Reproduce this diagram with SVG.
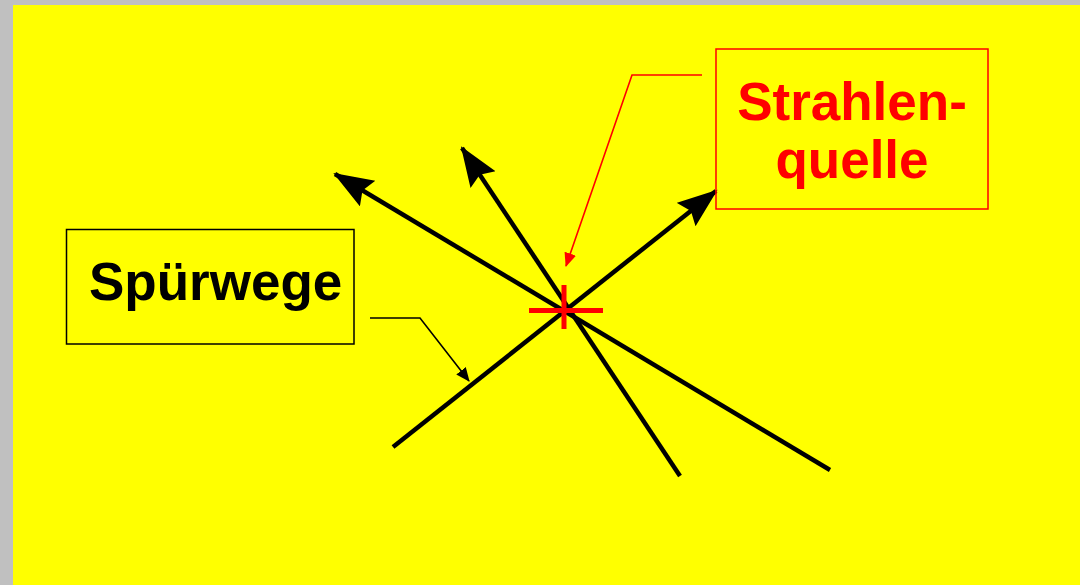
<svg xmlns="http://www.w3.org/2000/svg" width="1080" height="585" viewBox="0 0 1080 585">
  <style>
    .lbl { font-family: "Liberation Sans", Arial, sans-serif; font-weight: bold; font-size: 53px; }
    .ray { stroke: #000; stroke-width: 4.5; fill: none; }
  </style>
  <defs>
    <marker id="bigArrow" markerUnits="userSpaceOnUse" markerWidth="46" markerHeight="34" refX="38" refY="15" orient="auto">
      <path d="M0,0 L40,15 L0,30 L6,15 Z" fill="#000"/>
    </marker>
    <marker id="smallBlack" markerUnits="userSpaceOnUse" markerWidth="16" markerHeight="14" refX="13" refY="6" orient="auto">
      <path d="M0,0 L14,6 L0,12 Z" fill="#000"/>
    </marker>
    <marker id="smallRed" markerUnits="userSpaceOnUse" markerWidth="16" markerHeight="14" refX="13" refY="6" orient="auto">
      <path d="M0,0 L14,6 L0,12 Z" fill="#f00"/>
    </marker>
  </defs>
  <rect x="0" y="0" width="1080" height="585" fill="#c0c0c0"/>
  <rect x="13" y="5" width="1067" height="580" fill="#ffff00"/>

  <g id="connectors">
    <line class="ray" x1="393" y1="447" x2="716" y2="191" marker-end="url(#bigArrow)"/>
    <line class="ray" x1="830" y1="470" x2="335" y2="174" marker-end="url(#bigArrow)"/>
    <line class="ray" x1="680" y1="476" x2="462" y2="148" marker-end="url(#bigArrow)"/>
    <polyline points="370,318 420,318 469,381" fill="none" stroke="#000" stroke-width="1.6" marker-end="url(#smallBlack)"/>
    <polyline points="702,75 632,75 566,266" fill="none" stroke="#f00" stroke-width="1.6" marker-end="url(#smallRed)"/>
  </g>

  <g id="source-cross">
    <line x1="529" y1="310.5" x2="603" y2="310.5" stroke="#f00" stroke-width="5"/>
    <line x1="564" y1="285" x2="564" y2="329" stroke="#f00" stroke-width="5"/>
  </g>

  <g id="strahlenquelle">
    <rect x="716" y="49" width="272" height="160" fill="none" stroke="#f00" stroke-width="1.5"/>
    <text class="lbl" x="852" y="120" text-anchor="middle" fill="#f00">Strahlen-</text>
    <text class="lbl" x="852" y="178" text-anchor="middle" fill="#f00">quelle</text>
  </g>

  <g id="spuerwege">
    <rect x="66.5" y="229.5" width="287.5" height="114.5" fill="none" stroke="#000" stroke-width="1.5"/>
    <text class="lbl" x="89" y="300" fill="#000">Spürwege</text>
  </g>
</svg>
